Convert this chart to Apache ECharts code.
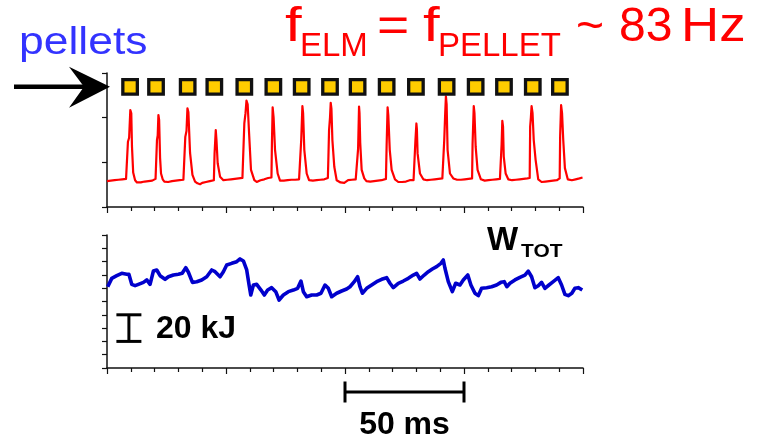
<!DOCTYPE html>
<html>
<head>
<meta charset="utf-8">
<script src="https://cdn.jsdelivr.net/npm/echarts@6/dist/echarts.min.js"></script>
<style>
  html, body { margin: 0; padding: 0; background: #ffffff; }
  #chart { width: 771px; height: 441px; }
</style>
</head>
<body>
<div id="chart"></div>
<script>
// Time base of both traces, in ms (0 .. 200, major tick every 50 ms, minor every 10 ms)
const timeRange = [0, 200];
const timeStep = 50;

// D-alpha (ELM monitor) trace, arbitrary units: [time ms, signal]
const elmTrace = [
  [0,0.58],[0.8,0.61],[1.6,0.59],[2.4,0.62],[3.2,0.60],[4,0.63],[4.8,0.61],[5.6,0.63],[6.4,0.62],[7.2,0.64],[8,0.63],[8.6,0.65],
  [8.8,1.46],[9.3,1.55],[9.8,2.17],[10.2,2.1],[10.5,1.35],[11,0.77],[11.8,0.6],[12.6,0.55],[13.4,0.57],[14.2,0.55],[15,0.58],[15.8,0.57],[16.6,0.59],[17.4,0.58],[18.2,0.6],[19,0.59],[19.8,0.62],[20.4,0.63],[20.8,0.64],
  [21.0,1.5],[21.3,1.6],[21.6,2.06],[21.9,1.95],[22.3,1.1],[22.7,0.75],[23.4,0.62],[24.1,0.57],[24.9,0.58],[25.7,0.56],[26.5,0.59],[27.3,0.58],[28.1,0.6],[28.9,0.59],[29.7,0.61],[30.5,0.6],[31.3,0.62],[32.1,0.61],[32.7,0.63],
  [32.9,1.57],[33.4,1.7],[33.8,2.21],[34.2,2.12],[34.9,1.21],[35.9,0.72],[37,0.57],[38,0.53],[39.1,0.51],[40,0.54],[40.8,0.53],[41.6,0.56],[42.4,0.55],[43.2,0.58],[44,0.57],[44.9,0.6],
  [45.2,1.2],[45.7,1.72],[46,1.5],[46.5,0.98],[47.5,0.68],[48.9,0.6],[49.7,0.58],[50.5,0.61],[51.3,0.6],[52.1,0.62],[52.9,0.61],[53.7,0.63],[54.5,0.62],[55.3,0.64],[56.1,0.63],[56.9,0.65],[57.4,0.66],
  [57.7,1.87],[58.2,2.1],[58.6,2.38],[59.1,2.3],[59.7,1.65],[60.5,0.83],[61.9,0.6],[62.9,0.56],[63.7,0.58],[64.5,0.6],[65.3,0.59],[66.1,0.62],[66.9,0.63],[67.7,0.65],[68.4,0.64],[69.1,0.66],
  [69.3,1.43],[69.6,2.23],[70,2.0],[70.6,1.28],[71.7,0.75],[72.7,0.59],[73.5,0.57],[74.3,0.59],[75.1,0.58],[75.9,0.6],[76.7,0.59],[77.5,0.61],[78.3,0.62],[79.1,0.61],[79.9,0.63],[80.7,0.62],[81.4,0.64],
  [81.6,1.5],[82.1,2.26],[82.4,2.1],[82.9,1.28],[83.9,0.75],[84.9,0.6],[85.7,0.57],[86.5,0.59],[87.3,0.58],[88.1,0.6],[88.9,0.59],[89.7,0.61],[90.5,0.6],[91.3,0.62],[92.1,0.63],[92.8,0.65],
  [93.0,1.05],[93.3,1.72],[93.7,2.0],[94.0,2.33],[94.3,2.2],[94.7,1.5],[95.5,0.9],[96.5,0.6],[97.3,0.56],[98.1,0.55],[98.9,0.56],[99.7,0.54],[100.5,0.58],[101.3,0.6],[102.1,0.59],[102.9,0.61],[103.7,0.6],[104.5,0.62],[105.2,0.63],
  [105.5,1.3],[105.9,2.25],[106.1,2.1],[106.4,1.43],[107,0.83],[108.1,0.64],[109,0.58],[109.8,0.59],[110.6,0.57],[111.4,0.59],[112.2,0.58],[113,0.6],[113.8,0.59],[114.6,0.61],[115.4,0.6],[116.2,0.62],[117.2,0.63],
  [117.5,1.4],[117.9,2.23],[118.2,2.05],[118.8,1.28],[119.6,0.83],[121,0.62],[122.4,0.56],[123.2,0.57],[124,0.56],[124.8,0.58],[125.6,0.57],[126.4,0.59],[127.2,0.6],[128,0.61],[128.8,0.6],[129.4,0.62],
  [129.6,1.5],[130.0,1.87],[130.2,1.75],[130.5,1.2],[131.5,0.75],[132.9,0.62],[133.7,0.58],[134.5,0.6],[135.3,0.59],[136.1,0.61],[136.9,0.6],[137.7,0.62],[138.5,0.61],[139.3,0.63],[140.1,0.62],[140.9,0.64],[141.5,0.65],
  [141.7,1.5],[142.1,2.1],[142.4,2.48],[142.7,2.3],[143.1,1.28],[144.1,0.75],[145.5,0.64],[146.3,0.6],[147.1,0.61],[147.9,0.59],[148.7,0.61],[149.5,0.6],[150.3,0.62],[151.1,0.61],[151.9,0.63],[152.7,0.62],[153.4,0.64],
  [153.6,1.4],[154.1,2.26],[154.4,2.1],[154.9,1.35],[155.7,0.83],[157.1,0.62],[157.9,0.58],[158.7,0.59],[159.5,0.58],[160.3,0.6],[161.1,0.59],[161.9,0.61],[162.7,0.6],[163.5,0.62],[164.3,0.61],[165.1,0.63],[165.6,0.63],
  [165.8,1.4],[166.1,1.93],[166.4,1.8],[166.7,1.13],[167.5,0.75],[168.6,0.62],[169.4,0.59],[170.2,0.6],[171,0.59],[171.8,0.61],[172.6,0.6],[173.4,0.62],[174.2,0.61],[175,0.63],[175.8,0.62],[176.6,0.64],[177.6,0.65],
  [177.8,1.8],[178.1,2.0],[178.4,2.26],[178.8,2.1],[179.3,1.5],[180.1,1.05],[181.2,0.62],[182.6,0.56],[183.4,0.58],[184.2,0.57],[185,0.59],[185.8,0.58],[186.6,0.6],[187.4,0.59],[188.2,0.61],[189,0.6],[189.7,0.62],[190.2,0.64],
  [190.4,1.6],[190.8,2.28],[191.2,2.1],[191.7,1.5],[192.4,0.87],[193.6,0.62],[194.4,0.58],[195.3,0.6],[196.1,0.59],[196.9,0.62],[197.7,0.61],[198.5,0.64],[199.3,0.63],[199.8,0.66]
];

// Pellet injection times (ms), drawn as a row of markers above the trace
const pelletTimes = [9.7, 20.6, 33.9, 45.1, 57.7, 69.9, 81.8, 93.7, 105.3, 117.5, 129.8, 142.7, 154.9, 166.8, 178.9, 190.3];
const pelletRow = 2.69;

// Total stored energy W_TOT (kJ, offset scale): [time ms, energy]
const storedEnergy = [
  [0.3,61.1],[2.0,67.4],[4.1,69.4],[6.2,71.2],[8.3,70.5],[9.2,70.5],[10.4,62.9],[11.8,61.9],[13.2,62.9],[15.3,64.4],
  [16.7,66.2],[18.1,62.9],[19.5,72.9],[20.9,73.7],[22.3,69.4],[24.4,66.7],[25.8,68.6],[27.9,69.9],[30.0,70.5],[31.6,71.2],
  [33.1,75.4],[34.2,72.0],[35.9,64.4],[37.7,64.9],[39.8,66.2],[41.9,68.6],[44.0,73.7],[45.4,72.4],[47.5,68.6],[48.9,72.4],
  [50.3,77.4],[52.4,78.7],[54.5,79.9],[55.9,82.0],[57.3,80.5],[58.7,73.7],[59.7,62.4],[60.4,54.9],[61.5,62.4],[62.9,62.9],
  [64.7,58.6],[66.1,54.9],[67.5,58.6],[69.2,60.4],[70.9,57.4],[72.3,51.1],[74.1,54.9],[76.2,57.4],[78.3,58.6],[80.1,59.9],
  [81.5,65.4],[82.5,57.4],[83.9,53.6],[86.0,54.9],[88.1,54.9],[89.9,56.2],[91.6,62.4],[93.0,59.9],[94.4,53.6],[96.5,56.2],
  [98.6,57.9],[100.7,59.4],[102.1,61.1],[103.9,64.9],[105.3,68.6],[106.3,61.1],[107.3,56.2],[109.1,59.9],[111.2,62.4],[113.3,64.9],
  [115.4,66.7],[117.5,67.9],[118.9,63.7],[120.3,60.4],[122.4,63.7],[124.5,65.4],[126.6,67.4],[128.7,69.9],[130.1,71.2],[131.5,66.9],
  [133.3,69.9],[135.0,72.4],[136.7,74.4],[138.5,76.2],[140.3,78.7],[141.3,81.2],[142.0,75.0],[143.4,64.9],[145.1,57.4],[146.5,63.7],
  [148.3,62.4],[149.7,66.2],[151.6,69.9],[152.9,62.4],[154.6,56.2],[156.0,54.4],[157.4,59.9],[159.5,60.4],[161.6,61.1],[163.7,62.4],
  [165.5,64.4],[166.9,64.9],[168.0,61.1],[169.3,63.7],[171.4,66.2],[173.5,68.2],[175.6,69.9],[177.0,72.9],[178.4,68.6],[179.8,60.4],
  [181.2,61.9],[182.6,64.4],[184.0,59.9],[185.7,62.4],[187.5,64.9],[189.6,67.9],[191.0,62.4],[192.4,55.4],[193.8,54.4],[195.3,56.2],
  [196.6,59.9],[198.0,60.4],[199.7,58.6]
];

// Scale bars: 50 ms on the time axis, 20 kJ on the energy axis
const timeBar = [100, 150];
const energyBar = [20, 40];

const FONT = '"Liberation Sans", Arial, Helvetica, sans-serif';
const INK = '#111111';

const chart = echarts.init(document.getElementById('chart'), null, { renderer: 'canvas' });

function timeAxis(gridIndex) {
  return {
    type: 'value', gridIndex: gridIndex,
    min: timeRange[0], max: timeRange[1], interval: timeStep,
    axisLine: { show: true, onZero: false, lineStyle: { color: INK, width: 1.5 } },
    axisTick: { show: true, inside: false, length: 6, lineStyle: { color: INK, width: 1.2 } },
    minorTick: { show: true, splitNumber: 5, length: 4, lineStyle: { color: INK, width: 1.2 } },
    axisLabel: { show: false },
    splitLine: { show: false },
    minorSplitLine: { show: false }
  };
}

function levelAxis(gridIndex, max, step) {
  return {
    type: 'value', gridIndex: gridIndex,
    min: 0, max: max, interval: step,
    axisLine: { show: true, onZero: false, lineStyle: { color: INK, width: 1.5 } },
    axisTick: { show: true, inside: false, length: 5, lineStyle: { color: INK, width: 1.2 } },
    axisLabel: { show: false },
    splitLine: { show: false }
  };
}

chart.setOption({
  animation: false,
  backgroundColor: '#ffffff',
  grid: [
    { left: 107, right: 188, top: 73, height: 134 },
    { left: 107, right: 188, top: 235, height: 133 }
  ],
  xAxis: [timeAxis(0), timeAxis(1)],
  yAxis: [levelAxis(0, 3, 1), levelAxis(1, 100, 10)],
  series: [
    {
      name: 'ELM', type: 'line', xAxisIndex: 0, yAxisIndex: 0,
      data: elmTrace, showSymbol: false, symbol: 'none',
      lineStyle: { color: '#ff0000', width: 2.2, join: 'round' }, z: 2
    },
    {
      name: 'pellets', type: 'scatter', xAxisIndex: 0, yAxisIndex: 0,
      data: pelletTimes.map(t => [t, pelletRow]),
      symbol: 'rect', symbolSize: 14.5,
      itemStyle: { color: '#ffcc00', borderColor: INK, borderWidth: 3.3, opacity: 1 },
      z: 3
    },
    {
      name: 'W_TOT', type: 'line', xAxisIndex: 1, yAxisIndex: 1,
      data: storedEnergy, showSymbol: false, symbol: 'none',
      lineStyle: { color: '#0000cc', width: 3.6, join: 'round' }, z: 2
    }
  ]
});

// Text helper: x is the left (or anchor) edge, base is the alphabetic baseline
function label(text, x, base, size, color, weight, scaleX, align) {
  return {
    type: 'text', x: x, y: base - 0.3465 * size, scaleX: scaleX || 1, z: 10,
    style: {
      text: text, fill: color, textAlign: align || 'left', textVerticalAlign: 'middle',
      fontFamily: FONT, fontSize: size, fontWeight: weight || 'normal'
    }
  };
}

const px = (g, p) => chart.convertToPixel({ gridIndex: g }, p);

// Pellet arrow points at the marker row on the left axis
const tip = px(0, [0, pelletRow]);
const arrowY = tip[1];
const arrowTipX = tip[0] + 3;

// 50 ms bar under the lower panel
const barL = px(1, [timeBar[0], 0]);
const barR = px(1, [timeBar[1], 0]);
const barY = barL[1] + 24;

// 20 kJ bar inside the lower panel
const eLo = px(1, [9.2, energyBar[0]]);
const eHi = px(1, [9.2, energyBar[1]]);

const black = { stroke: '#000000', lineWidth: 3 };

chart.setOption({
  graphic: [
    // title
    label('f', 285, 44.5, 48, '#ff0000', 'normal', 1.25),
    label('ELM', 300, 58.5, 33, '#ff0000'),
    label('=', 377, 44.5, 48, '#ff0000', 'normal', 1.15),
    label('f', 423, 44.5, 48, '#ff0000', 'normal', 1.25),
    label('PELLET', 438, 58.5, 33, '#ff0000'),
    label('~', 576, 44.5, 48, '#ff0000'),
    label('83', 619, 44.5, 48, '#ff0000'),
    label('Hz', 681, 44.5, 48, '#ff0000', 'normal', 1.1),

    // pellet annotation
    label('pellets', 19, 57, 38, '#3333ff', 'normal', 1.17),
    { type: 'line', z: 10, shape: { x1: 14, y1: arrowY, x2: arrowTipX - 24, y2: arrowY }, style: { stroke: '#000', lineWidth: 4.5 } },
    { type: 'polygon', z: 10, shape: { points: [[arrowTipX - 41, arrowY - 20], [arrowTipX, arrowY], [arrowTipX - 41, arrowY + 21], [arrowTipX - 26, arrowY]] }, style: { fill: '#000' } },

    // stored energy label
    label('W', 487, 252, 33, '#000', 'bold'),
    label('TOT', 521, 258, 19, '#000', 'bold', 1.1),

    // 20 kJ scale bar
    { type: 'line', z: 10, shape: { x1: eHi[0], y1: eHi[1], x2: eLo[0], y2: eLo[1] }, style: black },
    { type: 'line', z: 10, shape: { x1: eHi[0] - 12.5, y1: eHi[1], x2: eHi[0] + 12.5, y2: eHi[1] }, style: black },
    { type: 'line', z: 10, shape: { x1: eLo[0] - 12.5, y1: eLo[1], x2: eLo[0] + 12.5, y2: eLo[1] }, style: black },
    label('20 kJ', 156, 340, 32, '#000', 'bold'),

    // 50 ms scale bar
    { type: 'line', z: 10, shape: { x1: barL[0], y1: barY, x2: barR[0], y2: barY }, style: black },
    { type: 'line', z: 10, shape: { x1: barL[0], y1: barY - 10.5, x2: barL[0], y2: barY + 10.5 }, style: black },
    { type: 'line', z: 10, shape: { x1: barR[0], y1: barY - 10.5, x2: barR[0], y2: barY + 10.5 }, style: black },
    label('50 ms', (barL[0] + barR[0]) / 2, 436, 32, '#000', 'bold', 1, 'center')
  ]
});
</script>
</body>
</html>
